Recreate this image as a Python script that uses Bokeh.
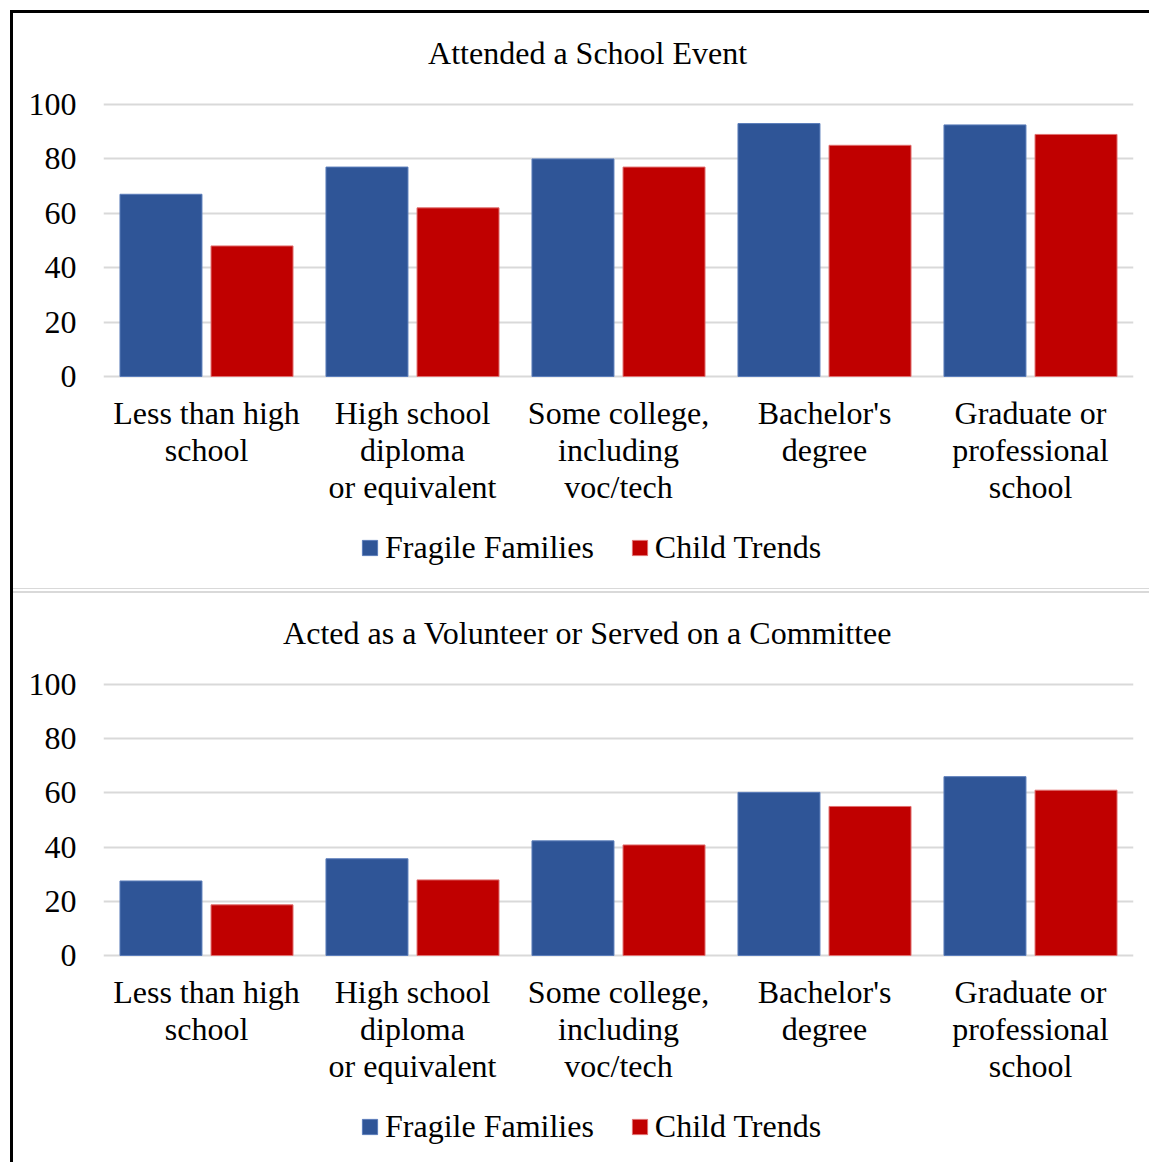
from bokeh.plotting import figure
from bokeh.models import (ColumnDataSource, FactorRange, Range1d, FixedTicker,
                          Legend, LegendItem, Div, Label)
from bokeh.core.properties import value
from bokeh.transform import dodge
from bokeh.layouts import column
from bokeh.embed import file_html
from bokeh.resources import INLINE

categories = ["Less than high school", "High school diploma or equivalent",
              "Some college, including voc/tech", "Bachelor's degree",
              "Graduate or professional school"]
category_labels = ["Less than high\nschool", "High school\ndiploma\nor equivalent",
                   "Some college,\nincluding\nvoc/tech", "Bachelor's\ndegree",
                   "Graduate or\nprofessional\nschool"]
series_names = ["Fragile Families", "Child Trends"]

event_fragile = [67, 77, 80, 93, 92.5]
event_child = [48, 62, 77, 85, 89]
volunteer_fragile = [27.5, 35.7, 42.3, 60.2, 66]
volunteer_child = [18.7, 27.9, 40.8, 55, 61]

titles = ["Attended a School Event", "Acted as a Volunteer or Served on a Committee"]
y_ticks = [0, 20, 40, 60, 80, 100]

BLUE = "#2F5597"
RED = "#C00000"
GRID = "#D9D9D9"
FONT = "Liberation Serif"
FS = "32px"


def make_panel(title, fragile, child, height, y_lo, y_hi, legend_y):
    src = ColumnDataSource(dict(cat=categories, ff=fragile, ct=child,
                                lab=category_labels))
    p = figure(x_range=FactorRange(*categories), y_range=Range1d(y_lo, y_hi),
               width=1136, height=height, output_backend="svg", toolbar_location=None,
               x_axis_location=None,
               min_border_left=90, min_border_right=16, min_border_top=0,
               min_border_bottom=0)
    p.x_range.range_padding = 0
    p.outline_line_color = None
    p.background_fill_color = "white"
    p.border_fill_color = "white"

    p.xgrid.grid_line_color = None
    p.ygrid.grid_line_color = GRID
    p.ygrid.grid_line_width = 2
    p.yaxis.ticker = FixedTicker(ticks=y_ticks)
    p.ygrid.ticker = FixedTicker(ticks=y_ticks)

    r1 = p.vbar(x=dodge("cat", -0.221, range=p.x_range), top="ff", bottom=0,
                width=0.398, source=src, fill_color=BLUE, line_color="#5B7DBA",
                line_width=1)
    r2 = p.vbar(x=dodge("cat", 0.221, range=p.x_range), top="ct", bottom=0,
                width=0.398, source=src, fill_color=RED, line_color="#E07070",
                line_width=1)

    p.yaxis.axis_line_color = None
    p.yaxis.major_tick_line_color = None
    p.yaxis.minor_tick_line_color = None
    p.yaxis.major_label_standoff = 21
    p.yaxis.major_label_text_font = FONT
    p.yaxis.major_label_text_font_size = FS
    p.yaxis.major_label_text_color = "black"

    p.text(x="cat", y=-6.9, text="lab", source=src, text_align="center",
           text_baseline="top", text_font=value(FONT), text_font_size=FS,
           text_color="black", text_line_height=1.03)

    p.add_layout(Label(x=2.35, y=119, text=title, text_align="center",
                       text_baseline="middle", text_font=FONT, text_font_size=FS,
                       text_color="black"))

    legend = Legend(items=[LegendItem(label=series_names[0], renderers=[r1]),
                           LegendItem(label=series_names[1], renderers=[r2])],
                    orientation="horizontal", location=(257, legend_y),
                    glyph_width=19, glyph_height=19, label_standoff=6, spacing=36,
                    padding=0, margin=0, border_line_color=None,
                    background_fill_alpha=0,
                    label_text_font=FONT, label_text_font_size=FS,
                    label_text_color="black")
    p.add_layout(legend)
    return p


p1 = make_panel(titles[0], event_fragile, event_child, 575, -77.94, 133.46, 22)
p2 = make_panel(titles[1], volunteer_fragile, volunteer_child, 569, -76.38, 133.58, 17)

sep = Div(width=1136, height=5, margin=(0, 0, 0, 0),
          styles={"background": "linear-gradient(#D9D9D9 0px, #D9D9D9 1.5px, "
                                "#FFFFFF 1.5px, #FFFFFF 3.5px, #D9D9D9 3.5px, "
                                "#D9D9D9 5px)"})

layout = column(p1, sep, p2, spacing=0, margin=(10, 0, 0, 10),
                styles={"border-left": "3px solid black", "border-top": "3px solid black"})

open("out.html", "w").write(file_html(layout, INLINE))
